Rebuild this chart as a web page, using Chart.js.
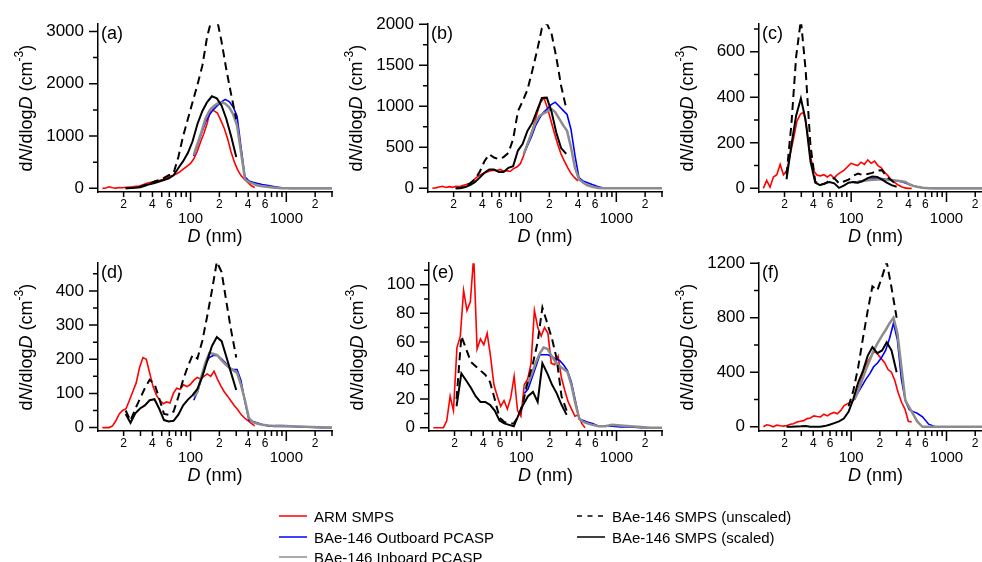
<!DOCTYPE html>
<html>
<head>
<meta charset="utf-8">
<script src="https://cdn.jsdelivr.net/npm/chart.js@4.4.1/dist/chart.umd.min.js"></script>
<style>
	body { margin: 0; width: 982px; height: 562px; overflow: hidden; background: #fff; position: relative; font-family: 'Liberation Sans', Arial, sans-serif; }
	canvas { position: absolute; }
	.lg { position: absolute; height: 20px; display: flex; align-items: center; font-size: 15px; color: #000; white-space: nowrap; }
	.lg svg { margin-right: 7px; }
</style>
</head>
<body>
<canvas id="pa" width="345" height="250"></canvas>
<canvas id="pb" width="345" height="250"></canvas>
<canvas id="pc" width="345" height="250"></canvas>
<canvas id="pd" width="345" height="250"></canvas>
<canvas id="pe" width="345" height="250"></canvas>
<canvas id="pf" width="345" height="250"></canvas>

<div class="lg" style="left:279px; top:506px"><svg width="28" height="4"><line x1="0" y1="2" x2="28" y2="2" stroke="#ff0000" stroke-width="1.5"/></svg>ARM SMPS</div>
<div class="lg" style="left:279px; top:527px"><svg width="28" height="4"><line x1="0" y1="2" x2="28" y2="2" stroke="#0000ff" stroke-width="1.5"/></svg>BAe-146 Outboard PCASP</div>
<div class="lg" style="left:279px; top:547px"><svg width="28" height="4"><line x1="0" y1="2" x2="28" y2="2" stroke="#8c8c8c" stroke-width="1.5"/></svg>BAe-146 Inboard PCASP</div>
<div class="lg" style="left:577px; top:506px"><svg width="28" height="4"><line x1="0" y1="2" x2="28" y2="2" stroke="#000" stroke-width="1.5" stroke-dasharray="5,5.5"/></svg>BAe-146 SMPS (unscaled)</div>
<div class="lg" style="left:577px; top:527px"><svg width="28" height="4"><line x1="0" y1="2" x2="28" y2="2" stroke="#000" stroke-width="1.5"/></svg>BAe-146 SMPS (scaled)</div>

<script>
const FONT = "'Liberation Sans', Arial, sans-serif";

// x axis (D, nm), log scale
const xTickValues = [20, 30, 40, 50, 60, 70, 80, 90, 100, 200, 300, 400, 500, 600, 700, 800, 900, 1000, 2000, 3000];
const xMajorValues = [100, 1000];
const xMinorDigits = [2, 4, 6];

// diameters of each instrument (nm)
const armDiam = [12, 13, 14.1, 15.3, 16.6, 18, 19.5, 21.2, 23, 24.9, 27, 29.3, 31.8, 34.5, 37.4, 40.6, 44, 47.7, 51.8, 56.2,
	61, 66.1, 71.7, 77.8, 84.4, 91.6, 99.4, 107.8, 117, 126.9, 137.7, 149.4, 162.1, 175.9, 190.8, 207, 224.6, 243.7, 264.4, 286.9,
	311.3, 337.7, 366.4, 397.6, 431.4, 468];
const smpsDiam = [21, 23.6, 26.5, 29.7, 33.3, 37.4, 42, 47.1, 52.8, 59.3, 66.5, 74.6, 83.7, 93.9, 105, 118, 133, 149, 167, 188, 211, 236, 265, 300];
const pcaspDiam = [108, 118, 130, 143, 157, 172, 190, 209, 230, 253, 278, 306, 336, 370, 407, 448, 493, 560, 650, 760, 900, 1100, 1400, 1800, 2300, 3000];

// (a)
const armA = [0, 5, 30, 10, 5, 15, 10, 20, 25, 30, 40, 45, 70, 90, 110, 120, 140, 155, 175, 200,
	230, 250, 280, 320, 370, 420, 470, 560, 700, 880, 1050, 1250, 1520, 1480, 1440, 1300, 1150, 950, 700, 500,
	350, 240, 170, 110, 50, 15];
const scaledA = [0, 5, 10, 20, 50, 80, 100, 130, 160, 190, 250, 390, 520, 680, 900, 1230, 1480, 1650, 1760, 1720, 1580, 1330, 1000, 600];
const unscaledA = [0, 5, 15, 30, 60, 90, 130, 160, 200, 250, 290, 600, 1000, 1330, 1650, 1980, 2350, 2900, 3250, 3250, 2800, 2280, 1800, 1320];
const outboardA = [620, 830, 1050, 1260, 1400, 1500, 1580, 1650, 1700, 1660, 1560, 1380, 800, 220, 140, 115, 95, 75, 55, 30, 10, 0, 0, 0, 0, 0];
const inboardA = [640, 850, 1080, 1330, 1480, 1560, 1620, 1640, 1620, 1550, 1420, 1200, 700, 170, 120, 90, 60, 40, 25, 10, 0, 0, 0, 0, 0, 0];

// (b)
const armB = [0, 5, 15, 25, 10, 20, 12, 25, 20, 35, 45, 60, 90, 130, 160, 180, 195, 210, 220, 215,
	230, 210, 215, 205, 240, 260, 300, 400, 520, 640, 770, 920, 1050, 1100, 980, 830, 680, 540, 420, 330,
	250, 180, 130, 90, null, null];
const scaledB = [0, 2, 15, 40, 75, 130, 190, 230, 230, 200, 200, 250, 270, 460, 540, 700, 800, 950, 1100, 1105, 930, 680, 490, 420];
const unscaledB = [0, 5, 25, 60, 110, 200, 330, 415, 375, 355, 380, 430, 600, 940, 1060, 1200, 1440, 1680, 1950, 2010, 1880, 1600, 1250, 975];
const outboardB = [420, 520, 630, 760, 850, 920, 970, 1020, 1050, 1000, 950, 900, 720, 400, 130, 90, 70, 45, 20, 0, 0, 0, 0, 0, 0, 0];
const inboardB = [420, 540, 670, 800, 880, 910, 935, 970, 930, 850, 770, 700, 500, 250, 110, 70, 40, 20, 5, 0, 0, 0, 0, 0, 0, 0];

// (c)
const armC = [0, 35, 5, 50, 60, 105, 60, 80, 150, 220, 295, 325, 335, 255, 140, 75, 58, 55, 60, 50,
	60, 45, 60, 70, 80, 95, 110, 105, 100, 115, 105, 125, 110, 120, 100, 90, 70, 55, 36, 25,
	15, 7, 2, 0, 0, null];
const scaledC = [40, 190, 320, 395, 300, 120, 25, 14, 22, 28, 22, 2, 12, 25, 28, 25, 33, 45, 52, 50, 38, 25, 14, 7];
const unscaledC = [60, 280, 580, 740, 520, 190, 30, 15, 20, 35, 45, 22, 30, 38, 55, 65, 58, 63, 68, 78, 80, 50, 36, 14];
const outboardC = [28, 30, 33, 36, 40, 43, 43, 43, 40, 37, 35, 32, 29, 24, 17, 11, 7, 3, 1, 0, 0, 0, 0, 0, 0, 0];
const inboardC = [25, 28, 31, 35, 37, 38, 39, 39, 38, 37, 36, 34, 31, 28, 18, 11, 7, 3, 1, 0, 0, 0, 0, 0, 0, 0];

// (d)
const armD = [0, 0, 0, 5, 20, 40, 50, 55, 80, 105, 130, 175, 205, 200, 160, 120, 95, 80, 70, 75,
	72, 100, 115, 112, 125, 120, 126, 138, 147, 142, 150, 157, 150, 165, 142, 122, 105, 92, 78, 64,
	52, 38, 28, 20, 12, 5];
const scaledD = [40, 14, 42, 56, 65, 80, 83, 55, 22, 18, 20, 38, 65, 82, 95, 113, 150, 195, 238, 265, 253, 208, 160, 110];
const unscaledD = [50, 20, 55, 85, 115, 140, 128, 85, 40, 37, 47, 90, 140, 180, 212, 202, 255, 325, 400, 485, 455, 370, 285, 205];
const outboardD = [80, 105, 145, 186, 205, 211, 212, 202, 190, 175, 170, 170, 138, 75, 22, 18, 14, 9, 5, 3, 3, 3, 2, 1, 0, 0];
const inboardD = [90, 105, 150, 190, 218, 216, 212, 198, 186, 175, 168, 160, 125, 80, 28, 16, 12, 8, 6, 5, 5, 4, 3, 2, 1, 0];

// (e)
const armE = [0, 0, 0, 0, 5, 22, 12, 56, 64, 96, 82, 88, 120, 55, 62, 58, 66, 50, 30, 22,
	15, 19, 13, 21, 36, 12, 8, 30, 34, 45, 82, 70, 64, 70, 66, 45, 44, 50, 35, 26,
	18, 13, 8, 9, 3, 0];
const scaledE = [15, 38, 33, 28, 22, 18, 18, 16, 12, 5, 3, 2, 1, 9, 16, 22, 25, 18, 45, 38, 30, 24, 16, 9];
const unscaledE = [20, 64, 55, 46, 43, 40, 37, 32, 20, 7, 4, 3, 3, 8, 18, 33, 45, 60, 84, 73, 62, 48, 22, 12];
const outboardE = [24, 27, 35, 43, 51, 51, 51, 50, 48, 47, 44, 40, 32, 19, 6, 5, 4, 3, 1, 1, 1, 0.5, 0.5, 0, 0, 0];
const inboardE = [28, 31, 38, 46, 52, 56, 55, 50, 46, 43, 41, 39, 30, 17, 6, 4, 3, 2, 1, 1, 2, 1.5, 1, 0.5, 0, 0];

// (f)
const armF = [0, 15, 10, 0, 12, 8, 5, 10, 18, 22, 35, 40, 45, 60, 65, 80, 75, 72, 92, 80,
	95, 105, 95, 120, 155, 170, 180, 200, 265, 340, 430, 480, 520, 555, 530, 500, 470, 420, 400, 340,
	250, 180, 130, 40, 35, null];
const scaledF = [0, 0, 2, 3, 5, 0, 0, 0, 5, 15, 27, 40, 60, 110, 200, 320, 410, 520, 585, 540, 560, 620, 560, 400];
const unscaledF = [null, null, null, null, null, null, null, null, null, null, null, null, null, 150, 260, 430, 650, 850, 1030, 1000, 1100, 1210, 1020, 800];
const outboardF = [200, 250, 300, 350, 390, 440, 470, 510, 560, 650, 760, 634, 351, 191, 125, 111, 99, 73, 19, 0, 0, 0, 0, 0, 0, 0];
const inboardF = [200, 260, 340, 420, 490, 560, 615, 665, 710, 760, 800, 682, 441, 193, 143, 91, 39, 0, 0, 0, 0, 0, 0, 0, 0, 0];

// y ticks: all tick marks, and the ones with a label
const yTicksA = [0, 500, 1000, 1500, 2000, 2500, 3000];
const yLabelsA = [0, 1000, 2000, 3000];
const yTicksB = [0, 250, 500, 750, 1000, 1250, 1500, 1750, 2000];
const yLabelsB = [0, 500, 1000, 1500, 2000];
const yTicksC = [0, 100, 200, 300, 400, 500, 600, 700];
const yLabelsC = [0, 200, 400, 600];
const yTicksD = [0, 50, 100, 150, 200, 250, 300, 350, 400, 450];
const yLabelsD = [0, 100, 200, 300, 400];
const yTicksE = [0, 10, 20, 30, 40, 50, 60, 70, 80, 90, 100, 110];
const yLabelsE = [0, 20, 40, 60, 80, 100];
const yTicksF = [0, 200, 400, 600, 800, 1000, 1200];
const yLabelsF = [0, 400, 800, 1200];

const panels = [
	{ id: 'pa', tag: '(a)', left: 0, top: 0, axisLeft: 98, yMin: -70, yMax: 3138, yTicks: yTicksA, yLabels: yLabelsA,
		arm: armA, scaled: scaledA, unscaled: unscaledA, outboard: outboardA, inboard: inboardA },
	{ id: 'pb', tag: '(b)', left: 330, top: 0, axisLeft: 98, yMin: -45, yMax: 2000, yTicks: yTicksB, yLabels: yLabelsB,
		arm: armB, scaled: scaledB, unscaled: unscaledB, outboard: outboardB, inboard: inboardB },
	{ id: 'pc', tag: '(c)', left: 660, top: 0, axisLeft: 99, yMin: -16, yMax: 721, yTicks: yTicksC, yLabels: yLabelsC,
		arm: armC, scaled: scaledC, unscaled: unscaledC, outboard: outboardC, inboard: inboardC },
	{ id: 'pd', tag: '(d)', left: 0, top: 239, axisLeft: 98, yMin: -10, yMax: 481, yTicks: yTicksD, yLabels: yLabelsD,
		arm: armD, scaled: scaledD, unscaled: unscaledD, outboard: outboardD, inboard: inboardD },
	{ id: 'pe', tag: '(e)', left: 330, top: 239, axisLeft: 99, yMin: -2.3, yMax: 115, yTicks: yTicksE, yLabels: yLabelsE,
		arm: armE, scaled: scaledE, unscaled: unscaledE, outboard: outboardE, inboard: inboardE },
	{ id: 'pf', tag: '(f)', left: 660, top: 239, axisLeft: 99, yMin: -31, yMax: 1200, yTicks: yTicksF, yLabels: yLabelsF,
		arm: armF, scaled: scaledF, unscaled: unscaledF, outboard: outboardF, inboard: inboardF },
];

function pts(xs, ys) {
	return xs.map((x, i) => ({ x: x, y: ys[i] }));
}

function isMajorX(v) {
	return xMajorValues.includes(v);
}

function xLabel(v) {
	if (isMajorX(v)) return ['', String(v)];
	const m = Math.round(v / Math.pow(10, Math.floor(Math.log10(v) + 1e-9)));
	return xMinorDigits.includes(m) ? String(m) : '';
}

// draws text made of plain / italic / superscript pieces, centred on (cx, cy)
function richText(ctx, parts, cx, cy) {
	const fontFor = s => s === 'i' ? 'italic 18px ' + FONT : (s === 'sup' ? '12px ' + FONT : '18px ' + FONT);
	let w = 0;
	parts.forEach(([t, s]) => { ctx.font = fontFor(s); w += ctx.measureText(t).width; });
	let x = cx - w / 2;
	ctx.textAlign = 'left';
	ctx.textBaseline = 'middle';
	parts.forEach(([t, s]) => {
		ctx.font = fontFor(s);
		ctx.fillText(t, x, s === 'sup' ? cy - 7 : cy);
		x += ctx.measureText(t).width;
	});
}

// tick marks (long for labelled ones), axis titles and panel tag
const axisDecor = {
	id: 'axisDecor',
	afterDraw(chart, args, opts) {
		const { ctx, chartArea: a, scales } = chart;
		const xs = scales.x, ys = scales.y;
		ctx.save();
		ctx.strokeStyle = '#000';
		ctx.lineWidth = 1.5;
		ctx.beginPath();
		xs.ticks.forEach(t => {
			const px = xs.getPixelForValue(t.value);
			const len = isMajorX(t.value) ? 10 : 5;
			ctx.moveTo(px, a.bottom);
			ctx.lineTo(px, a.bottom + len);
		});
		ys.ticks.forEach(t => {
			const py = ys.getPixelForValue(t.value);
			const len = opts.yLabels.includes(t.value) ? 9 : 5;
			ctx.moveTo(a.left, py);
			ctx.lineTo(a.left - len, py);
		});
		ctx.stroke();

		ctx.fillStyle = '#000';
		richText(ctx, [['D', 'i'], [' (nm)', '']], (a.left + a.right) / 2, a.bottom + 45);

		ctx.save();
		ctx.translate(a.left - 71, (a.top + a.bottom) / 2);
		ctx.rotate(-Math.PI / 2);
		richText(ctx, [['d', ''], ['N', 'i'], ['/dlog', ''], ['D', 'i'], [' (cm', ''], ['-3', 'sup'], [')', '']], 0, 0);
		ctx.restore();

		ctx.font = '18px ' + FONT;
		ctx.textAlign = 'left';
		ctx.textBaseline = 'middle';
		ctx.fillText(opts.tag, a.left + 3, a.top + 10);
		ctx.restore();
	}
};

panels.forEach(p => {
	const canvas = document.getElementById(p.id);
	canvas.style.left = p.left + 'px';
	canvas.style.top = p.top + 'px';

	new Chart(canvas, {
		type: 'line',
		data: {
			datasets: [
				{ label: 'BAe-146 SMPS (scaled)', data: pts(smpsDiam, p.scaled), borderColor: '#000', borderWidth: 2, order: 1 },
				{ label: 'BAe-146 SMPS (unscaled)', data: pts(smpsDiam, p.unscaled), borderColor: '#000', borderWidth: 2, borderDash: [8, 5], order: 2 },
				{ label: 'BAe-146 Inboard PCASP', data: pts(pcaspDiam, p.inboard), borderColor: '#8c8c8c', borderWidth: 2.5, order: 3 },
				{ label: 'BAe-146 Outboard PCASP', data: pts(pcaspDiam, p.outboard), borderColor: '#0000ff', borderWidth: 1.6, order: 4 },
				{ label: 'ARM SMPS', data: pts(armDiam, p.arm), borderColor: '#ff0000', borderWidth: 1.6, order: 5 },
			]
		},
		options: {
			responsive: false,
			animation: false,
			devicePixelRatio: 1,
			elements: { point: { radius: 0 }, line: { tension: 0, fill: false } },
			layout: { padding: { top: 22, right: 13, left: 0, bottom: 0 } },
			plugins: {
				legend: { display: false },
				tooltip: { enabled: false },
				axisDecor: { yLabels: p.yLabels, tag: p.tag }
			},
			scales: {
				x: {
					type: 'logarithmic',
					min: 10.8,
					max: 3000,
					afterFit: s => { s.height = 58; },
					afterBuildTicks: s => { s.ticks = xTickValues.map(v => ({ value: v })); },
					grid: { display: false, drawTicks: false },
					border: { display: true, color: '#000', width: 1.5 },
					ticks: {
						autoSkip: false,
						maxRotation: 0,
						padding: 5,
						color: '#000',
						callback: v => xLabel(v),
						font: c => (c.tick && isMajorX(c.tick.value))
							? { family: FONT, size: 15, lineHeight: 0.97 }
							: { family: FONT, size: 12 }
					}
				},
				y: {
					type: 'linear',
					min: p.yMin,
					max: p.yMax,
					afterFit: s => { s.width = p.axisLeft; },
					afterBuildTicks: s => { s.ticks = p.yTicks.map(v => ({ value: v })); },
					grid: { display: false, drawTicks: false },
					border: { display: true, color: '#000', width: 1.5 },
					ticks: {
						autoSkip: false,
						padding: 14,
						color: '#000',
						font: { family: FONT, size: 17 },
						callback: v => p.yLabels.includes(v) ? String(v) : ''
					}
				}
			}
		},
		plugins: [axisDecor]
	});
});
</script>
</body>
</html>
